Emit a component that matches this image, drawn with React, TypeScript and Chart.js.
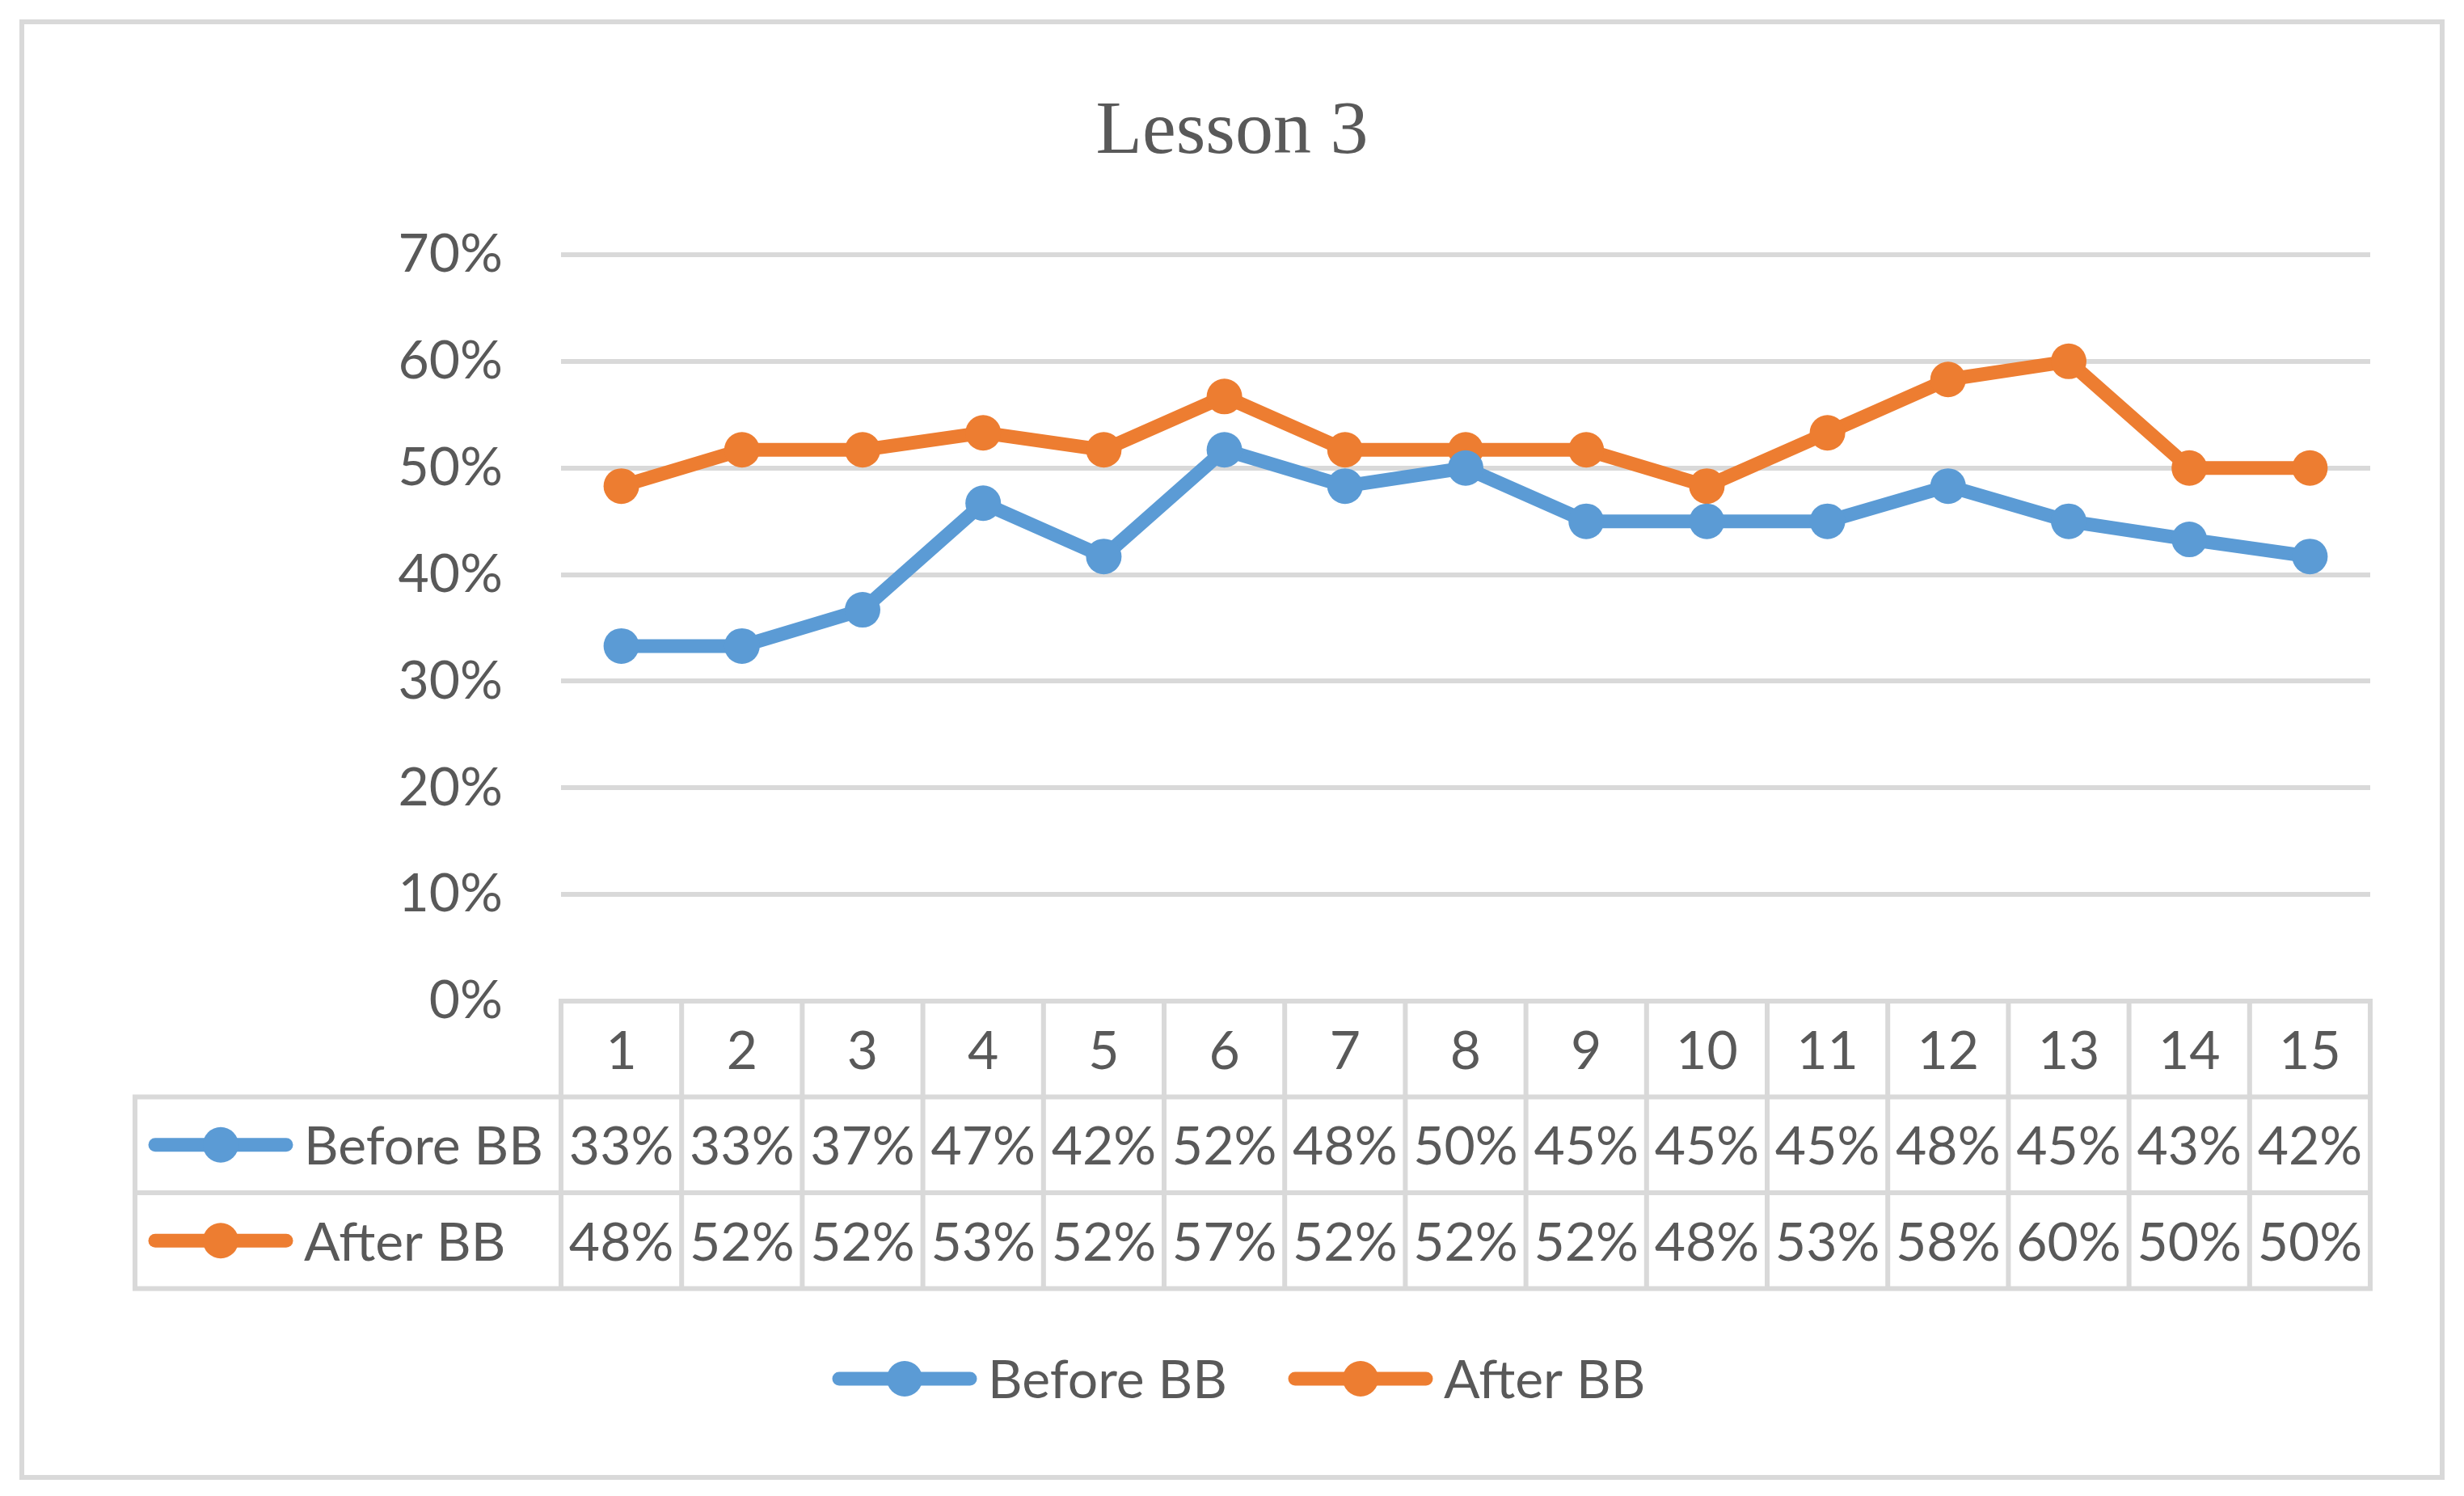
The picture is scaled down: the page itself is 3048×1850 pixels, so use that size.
import { useEffect, useRef } from 'react';
import { Chart, registerables } from 'chart.js';

Chart.register(...registerables);

const lessons = ['1', '2', '3', '4', '5', '6', '7', '8', '9', '10', '11', '12', '13', '14', '15'];
const beforeBB = [33.3, 33.3, 36.7, 46.7, 41.7, 51.7, 48.3, 50, 45, 45, 45, 48.3, 45, 43.3, 41.7];
const afterBB = [48.3, 51.7, 51.7, 53.3, 51.7, 56.7, 51.7, 51.7, 51.7, 48.3, 53.3, 58.3, 60, 50, 50];
const seriesNames = ['Before BB', 'After BB'];
const seriesColors = ['#5B9BD5', '#ED7D31'];

const W = 3048;
const H = 1850;
const TEXT = '#595959';
const LINE = '#D9D9D9';
const FONT = 'Lato, "Open Sans", sans-serif';

// draws the little line + circle key used in the table and the legend
const drawKey = (ctx, x, y, color) => {
  ctx.save();
  ctx.strokeStyle = color;
  ctx.fillStyle = color;
  ctx.lineWidth = 17;
  ctx.lineCap = 'round';
  ctx.beginPath();
  ctx.moveTo(x + 8, y);
  ctx.lineTo(x + 170, y);
  ctx.stroke();
  ctx.beginPath();
  ctx.arc(x + 89, y, 22, 0, Math.PI * 2);
  ctx.fill();
  ctx.restore();
};

const tablePlugin = {
  id: 'excelTable',
  beforeDraw(chart) {
    const { ctx } = chart;
    ctx.save();
    ctx.fillStyle = '#fff';
    ctx.fillRect(0, 0, W, H);
    ctx.strokeStyle = LINE;
    ctx.lineWidth = 6;
    ctx.strokeRect(27, 27, W - 54, H - 50);
    ctx.restore();
  },
  afterDraw(chart) {
    const { ctx, chartArea } = chart;
    const x = chart.scales.x;
    const cell = (chartArea.right - chartArea.left) / lessons.length;
    const rowH = 118.5;
    const top = chartArea.bottom;
    const tableLeft = 167;
    const rows = [top, top + rowH, top + rowH * 2, top + rowH * 3];

    ctx.save();
    ctx.strokeStyle = LINE;
    ctx.lineWidth = 6;
    ctx.lineCap = 'square';
    ctx.beginPath();
    ctx.moveTo(chartArea.left, rows[0]);
    ctx.lineTo(chartArea.right, rows[0]);
    for (let r = 1; r < 4; r++) {
      ctx.moveTo(tableLeft, rows[r]);
      ctx.lineTo(chartArea.right, rows[r]);
    }
    ctx.moveTo(tableLeft, rows[1]);
    ctx.lineTo(tableLeft, rows[3]);
    for (let i = 0; i <= lessons.length; i++) {
      const cx = chartArea.left + i * cell;
      ctx.moveTo(cx, rows[0]);
      ctx.lineTo(cx, rows[3]);
    }
    ctx.stroke();

    ctx.fillStyle = TEXT;
    ctx.font = `66px ${FONT}`;
    ctx.textAlign = 'center';
    ctx.textBaseline = 'middle';
    lessons.forEach((l, i) => {
      const px = x.getPixelForValue(i);
      ctx.fillText(l, px, (rows[0] + rows[1]) / 2 + 3);
    });
    chart.data.datasets.forEach((ds, d) => {
      const cy = (rows[d + 1] + rows[d + 2]) / 2 + 3;
      ds.data.forEach((v, i) => {
        ctx.fillText(Math.round(v) + '%', x.getPixelForValue(i), cy);
      });
    });

    ctx.textAlign = 'left';
    chart.data.datasets.forEach((ds, d) => {
      const cy = (rows[d + 1] + rows[d + 2]) / 2;
      drawKey(ctx, 184, cy, ds.borderColor);
      ctx.fillStyle = TEXT;
      ctx.fillText(ds.label, 376, cy + 3);
    });

    // bottom legend
    const legendY = 1705;
    const starts = [1030, 1594];
    chart.data.datasets.forEach((ds, d) => {
      drawKey(ctx, starts[d], legendY, ds.borderColor);
      ctx.fillStyle = TEXT;
      ctx.fillText(ds.label, starts[d] + 192, legendY + 3);
    });

    // title
    ctx.font = '94px "Liberation Serif", serif';
    ctx.textAlign = 'center';
    ctx.textBaseline = 'alphabetic';
    ctx.fillText('Lesson 3', W / 2, 189);
    ctx.restore();
  },
};

const App = () => {
  const chartRef = useRef(null);
  const chartInstance = useRef(null);

  useEffect(() => {
    if (chartInstance.current) {
      chartInstance.current.destroy();
    }
    const ctx = chartRef.current.getContext('2d');

    chartInstance.current = new Chart(ctx, {
      type: 'line',
      data: {
        labels: lessons,
        datasets: [beforeBB, afterBB].map((values, i) => ({
          label: seriesNames[i],
          data: values,
          borderColor: seriesColors[i],
          backgroundColor: seriesColors[i],
          borderWidth: 17,
          borderJoinStyle: 'round',
          borderCapStyle: 'round',
          pointRadius: 22,
          pointBorderWidth: 0,
          pointBackgroundColor: seriesColors[i],
          tension: 0,
        })),
      },
      options: {
        responsive: false,
        devicePixelRatio: 1,
        animation: false,
        layout: {
          padding: { left: 0, right: 116, top: 315, bottom: 612 },
        },
        plugins: {
          legend: { display: false },
          title: { display: false },
          tooltip: { enabled: false },
        },
        scales: {
          x: {
            type: 'category',
            offset: true,
            display: false,
          },
          y: {
            min: 0,
            max: 70,
            afterFit: (scale) => {
              scale.width = 694;
            },
            border: { display: false },
            grid: { color: LINE, lineWidth: 6, drawTicks: false },
            ticks: {
              stepSize: 10,
              padding: 72,
              color: TEXT,
              font: { family: FONT, size: 66 },
              callback: (v) => v + '%',
            },
          },
        },
      },
      plugins: [tablePlugin],
    });

    return () => {
      if (chartInstance.current) {
        chartInstance.current.destroy();
      }
    };
  }, []);

  return (
    <div style={{ position: 'absolute', left: 0, top: 0, width: W, height: H, background: '#fff' }}>
      <canvas ref={chartRef} width={W} height={H} style={{ width: W, height: H }}></canvas>
    </div>
  );
};

export default App;
